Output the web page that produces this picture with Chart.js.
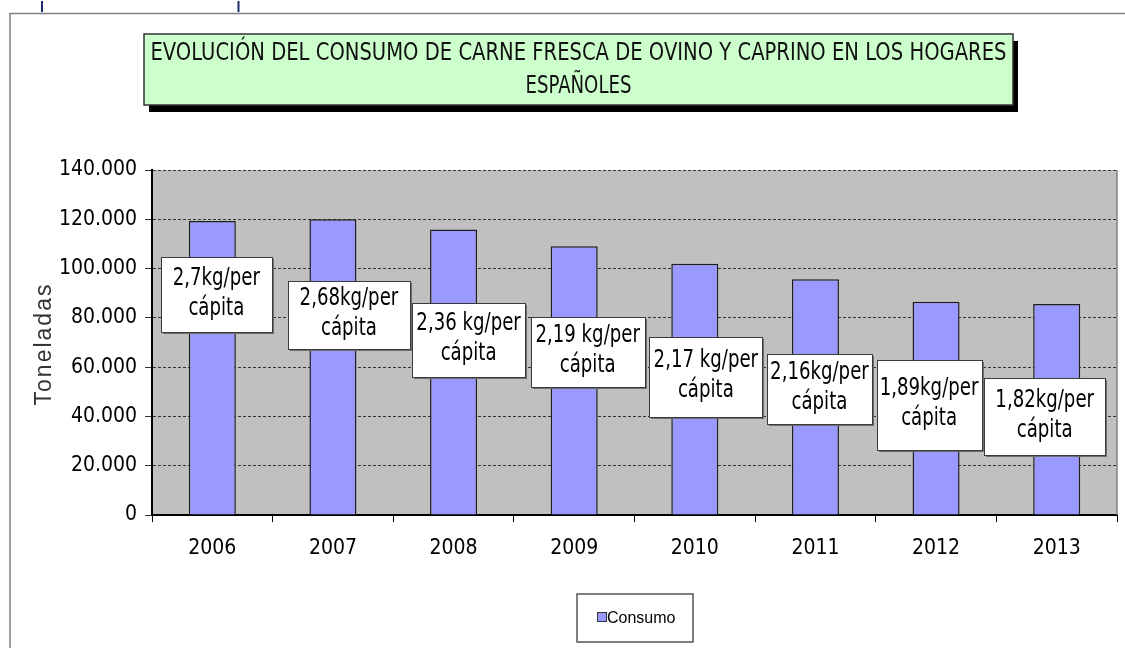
<!DOCTYPE html>
<html>
<head>
<meta charset="utf-8">
<script src="https://cdn.jsdelivr.net/npm/chart.js@4.4.0/dist/chart.umd.min.js"></script>
<style>
html,body{margin:0;padding:0;background:#fff;}
#wrap{width:1125px;height:648px;position:relative;}
</style>
</head>
<body>
<div id="wrap"><canvas id="c" width="1125" height="648"></canvas></div>
<script>
// ---- data ----
const years = ['2006', '2007', '2008', '2009', '2010', '2011', '2012', '2013'];
const consumo = [119300, 120000, 115900, 109100, 102000, 95700, 86500, 85600];
const perCapitaLine1 = ['2,7kg/per', '2,68kg/per', '2,36 kg/per', '2,19 kg/per', '2,17 kg/per', '2,16kg/per', '1,89kg/per', '1,82kg/per'];
const perCapitaLine2 = ['cápita', 'cápita', 'cápita', 'cápita', 'cápita', 'cápita', 'cápita', 'cápita'];
const yMin = 0;
const yMax = 140000;
const yStep = 20000;
const titleLines = ['EVOLUCIÓN DEL CONSUMO DE CARNE FRESCA DE OVINO Y CAPRINO EN LOS HOGARES', 'ESPAÑOLES'];
const seriesName = 'Consumo';
const yAxisTitle = 'Toneladas';

// ---- layout of the per-capita label boxes (anchor value, x offset px, size px) ----
const boxAnchorValue = [89400, 81240, 71140, 66270, 56120, 51130, 44640, 39970];
const boxDx = [4, 16, 15, 13.5, 11, 4, -7, -12];
const boxW = [111, 122, 113, 114, 113, 105, 105, 121];
const boxH = [75, 68, 74, 70, 80, 70, 90, 77];

const NARROW = "'Liberation Sans Narrow', 'Arial Narrow', 'DejaVu Sans Condensed', sans-serif";
const REG = "'Liberation Sans', Arial, sans-serif";
const SQUEEZE = 0.84;

function narrowText(ctx, text, x, y) {
  const w = ctx.measureText(text).width;
  ctx.fillText(text, x, y, w * SQUEEZE);
}

const decor = {
  id: 'decor',
  beforeDraw(chart) {
    const ctx = chart.ctx;
    const a = chart.chartArea;
    ctx.save();
    ctx.fillStyle = '#fff';
    ctx.fillRect(0, 0, chart.width, chart.height);
    // outer frame
    ctx.strokeStyle = '#808080';
    ctx.lineWidth = 1.5;
    ctx.beginPath();
    ctx.moveTo(1125, 13.5); ctx.lineTo(10, 13.5); ctx.lineTo(10, 648);
    ctx.stroke();
    // small marks at top
    ctx.strokeStyle = '#1d2a6a';
    ctx.lineWidth = 2;
    ctx.beginPath();
    ctx.moveTo(42, 1); ctx.lineTo(42, 12);
    ctx.moveTo(238.5, 1); ctx.lineTo(238.5, 12);
    ctx.stroke();
    // plot background
    ctx.fillStyle = '#c0c0c0';
    ctx.fillRect(a.left, a.top, a.right - a.left, a.bottom - a.top);
    ctx.restore();
  },
  afterDraw(chart) {
    const ctx = chart.ctx;
    const a = chart.chartArea;
    ctx.save();
    // right border of plot
    ctx.strokeStyle = '#808080';
    ctx.lineWidth = 1.5;
    ctx.beginPath();
    ctx.moveTo(a.right, a.top); ctx.lineTo(a.right, a.bottom);
    ctx.stroke();

    // title box
    const tx = 144, ty = 34, tw = 869, th = 71;
    ctx.fillStyle = '#000';
    ctx.fillRect(tx + 5, ty + 7, tw, th);
    ctx.fillStyle = '#ccffcc';
    ctx.fillRect(tx, ty, tw, th);
    ctx.strokeStyle = '#333';
    ctx.lineWidth = 1.5;
    ctx.strokeRect(tx, ty, tw, th);
    ctx.fillStyle = '#111';
    ctx.textAlign = 'center';
    ctx.textBaseline = 'middle';
    ctx.font = '24px ' + NARROW;
    ctx.fillText(titleLines[0], tx + tw / 2, 54, 856);
    narrowText(ctx, titleLines[1], tx + tw / 2, 87);

    // y axis title
    ctx.save();
    ctx.translate(45, 344);
    ctx.rotate(-Math.PI / 2);
    ctx.fillStyle = '#333';
    ctx.font = '23px ' + REG;
    try { ctx.letterSpacing = '2px'; } catch (e) {}
    ctx.textAlign = 'center';
    ctx.textBaseline = 'middle';
    ctx.fillText(yAxisTitle, 0, 0);
    ctx.restore();

    // per-capita label boxes
    const meta = chart.getDatasetMeta(0);
    const ys = chart.scales.y;
    ctx.font = '24px ' + NARROW;
    ctx.textAlign = 'center';
    ctx.textBaseline = 'middle';
    for (let i = 0; i < years.length; i++) {
      const bar = meta.data[i];
      const cx = bar.x + boxDx[i];
      const cy = ys.getPixelForValue(boxAnchorValue[i]);
      const w = boxW[i], h = boxH[i];
      const x0 = Math.round(cx - w / 2) + 0.5, y0 = Math.round(cy - h / 2) + 0.5;
      ctx.fillStyle = '#6e6e6e';
      ctx.fillRect(x0 + 1.5, y0 + 1.5, w, h);
      ctx.fillStyle = '#fff';
      ctx.fillRect(x0, y0, w, h);
      ctx.strokeStyle = '#3a3a3a';
      ctx.lineWidth = 1;
      ctx.strokeRect(x0, y0, w, h);
      ctx.fillStyle = '#000';
      narrowText(ctx, perCapitaLine1[i], cx, cy - 16);
      narrowText(ctx, perCapitaLine2[i], cx, cy + 14);
    }

    // legend
    const lx = 577, ly = 594, lw = 116, lh = 48;
    ctx.fillStyle = '#fff';
    ctx.fillRect(lx, ly, lw, lh);
    ctx.strokeStyle = '#555';
    ctx.lineWidth = 1.5;
    ctx.strokeRect(lx, ly, lw, lh);
    const ds = chart.data.datasets[0];
    ctx.fillStyle = ds.backgroundColor;
    ctx.fillRect(597.5, 612.5, 9, 9);
    ctx.strokeStyle = '#333';
    ctx.lineWidth = 1;
    ctx.strokeRect(597.5, 612.5, 9, 9);
    ctx.fillStyle = '#000';
    ctx.textAlign = 'left';
    ctx.font = '16px ' + REG;
    ctx.fillText(ds.label, 607, 619, 72);
    ctx.restore();
  }
};

new Chart(document.getElementById('c'), {
  type: 'bar',
  data: {
    labels: years,
    datasets: [{
      label: seriesName,
      data: consumo,
      backgroundColor: '#9999ff',
      borderColor: '#1e1e1e',
      borderWidth: 1.5,
      borderSkipped: 'bottom',
      barPercentage: 0.39,
      categoryPercentage: 1.0
    }]
  },
  options: {
    responsive: false,
    animation: false,
    devicePixelRatio: 1,
    layout: { padding: { left: 0, top: 170, right: 8, bottom: 0 } },
    plugins: { legend: { display: false }, title: { display: false }, tooltip: { enabled: false } },
    scales: {
      x: {
        grid: { offset: true, drawOnChartArea: false, tickLength: 7, color: '#000', lineWidth: 1 },
        border: { color: '#000', width: 2 },
        ticks: { font: { family: NARROW, size: 21 }, color: '#000', padding: 14, maxRotation: 0 },
        afterFit: (s) => { s.height = 133; }
      },
      y: {
        min: yMin, max: yMax,
        grid: { color: '#333', lineWidth: 1, tickLength: 7, tickColor: '#333' },
        border: { color: '#000', width: 2, dash: [3, 2] },
        ticks: {
          stepSize: yStep,
          font: { family: NARROW, size: 21 },
          color: '#000',
          padding: 8,
          callback: (v) => v === 0 ? '0' : v.toLocaleString('de-DE')
        },
        afterFit: (s) => { s.width = 152; }
      }
    }
  },
  plugins: [decor]
});
</script>
</body>
</html>
